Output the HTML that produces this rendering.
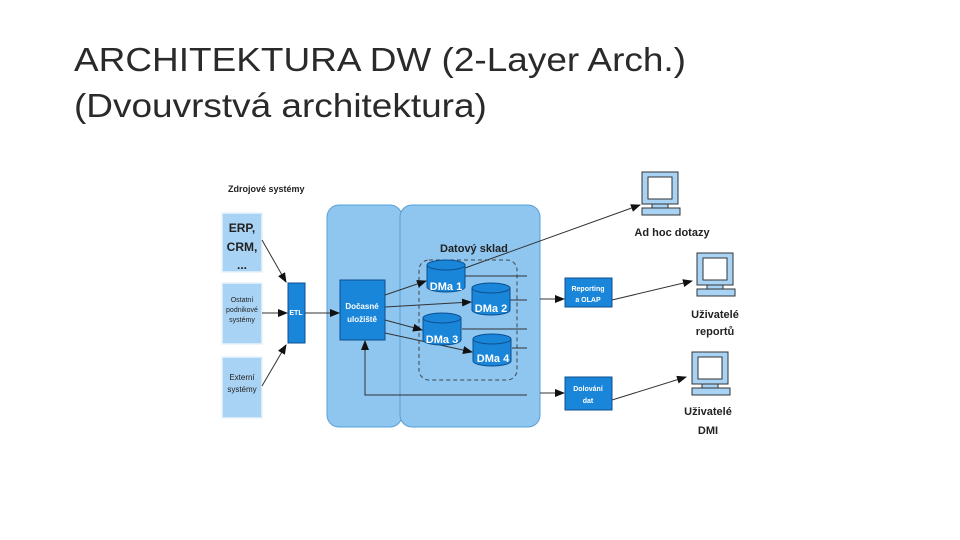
<!DOCTYPE html>
<html><head><meta charset="utf-8"><style>
body{margin:0;width:960px;height:540px;background:#fff;overflow:hidden;position:relative;font-family:"Liberation Sans",sans-serif}
.t{position:absolute;left:74px;font-size:33px;color:#2a2a2a;line-height:44px;transform:scaleX(1.12);transform-origin:left;white-space:nowrap}
</style></head><body>
<div class="t" style="top:38px">ARCHITEKTURA DW (2-Layer Arch.)</div>
<div class="t" style="top:84px">(Dvouvrstvá architektura)</div>
<svg width="960" height="540" style="position:absolute;left:0;top:0" font-family="Liberation Sans, sans-serif" font-weight="bold">
<defs><marker id="a" markerWidth="10" markerHeight="8" refX="9" refY="4" orient="auto" markerUnits="userSpaceOnUse"><path d="M0,0L10,4L0,8z" fill="#111"/></marker></defs>
<text x="228" y="192" font-size="9" fill="#222">Zdrojové systémy</text>
<g fill="#a9d3f4" stroke="#e8f3fc" stroke-width="1.5">
<rect x="222" y="213" width="40" height="59"/><rect x="222" y="283" width="40" height="61"/><rect x="222" y="357" width="40" height="61"/>
</g>
<g font-size="12" fill="#222" text-anchor="middle"><text x="242" y="232">ERP,</text><text x="242" y="251">CRM,</text><text x="242" y="269">...</text></g>
<g font-size="7" fill="#222" text-anchor="middle" font-weight="normal"><text x="242" y="302">Ostatní</text><text x="242" y="312">podnikové</text><text x="242" y="322">systémy</text>
<text x="242" y="380" font-size="8">Externí</text><text x="242" y="392" font-size="8">systémy</text></g>
<rect x="327" y="205" width="75" height="222" rx="12" fill="#8ec6f0" stroke="#5a9fd6"/>
<rect x="400" y="205" width="140" height="222" rx="12" fill="#8ec6f0" stroke="#5a9fd6"/>
<rect x="288" y="283" width="17" height="60" fill="#1a86d9" stroke="#0c4f90"/>
<text x="296" y="315" font-size="7" fill="#fff" text-anchor="middle">ETL</text>
<rect x="340" y="280" width="45" height="60" fill="#1a86d9" stroke="#0c4f90"/>
<text x="362" y="309" font-size="8" fill="#fff" text-anchor="middle">Dočasné</text>
<text x="362" y="322" font-size="8" fill="#fff" text-anchor="middle">uložiště</text>
<rect x="419" y="260" width="98" height="120" rx="10" fill="none" stroke="#444" stroke-dasharray="4,3"/>
<text x="440" y="252" font-size="11" fill="#222">Datový sklad</text>
<g stroke="#333" stroke-width="1" fill="none">
<line x1="465" y1="276" x2="527" y2="276"/><line x1="510" y1="300" x2="527" y2="300"/><line x1="462" y1="329" x2="527" y2="329"/><line x1="512" y1="348" x2="527" y2="348"/>
<line x1="262" y1="240" x2="286" y2="282" marker-end="url(#a)"/>
<line x1="262" y1="313" x2="287" y2="313" marker-end="url(#a)"/>
<line x1="262" y1="386" x2="286" y2="345" marker-end="url(#a)"/>
<line x1="305" y1="313" x2="339" y2="313" marker-end="url(#a)"/>
<line x1="385" y1="295" x2="426" y2="281" marker-end="url(#a)"/>
<line x1="385" y1="307" x2="471" y2="302" marker-end="url(#a)"/>
<line x1="385" y1="320" x2="422" y2="330" marker-end="url(#a)"/>
<line x1="385" y1="333" x2="472" y2="352" marker-end="url(#a)"/>
<polyline points="527,395 365,395 365,341" marker-end="url(#a)"/>
<line x1="465" y1="268" x2="640" y2="205" marker-end="url(#a)"/>
<line x1="540" y1="299" x2="564" y2="299" marker-end="url(#a)"/>
<line x1="540" y1="393" x2="564" y2="393" marker-end="url(#a)"/>
<line x1="612" y1="300" x2="692" y2="281" marker-end="url(#a)"/>
<line x1="612" y1="400" x2="686" y2="377" marker-end="url(#a)"/>
</g>
<g fill="#1a86d9" stroke="#0c4f90">
<path d="M427,265v22a19,5 0 0 0 38,0v-22z"/><ellipse cx="446" cy="265" rx="19" ry="5"/>
<path d="M472,288v22a19,5 0 0 0 38,0v-22z"/><ellipse cx="491" cy="288" rx="19" ry="5"/>
<path d="M423,318v22a19,5 0 0 0 38,0v-22z"/><ellipse cx="442" cy="318" rx="19" ry="5"/>
<path d="M473,339v22a19,5 0 0 0 38,0v-22z"/><ellipse cx="492" cy="339" rx="19" ry="5"/>
</g>
<g font-size="11" fill="#fff" text-anchor="middle"><text x="446" y="290">DMa 1</text><text x="491" y="312">DMa 2</text><text x="442" y="343">DMa 3</text><text x="493" y="362">DMa 4</text></g>
<rect x="565" y="278" width="47" height="29" fill="#1a86d9" stroke="#0c4f90"/>
<text x="588" y="291" font-size="7" fill="#fff" text-anchor="middle">Reporting</text><text x="588" y="302" font-size="7" fill="#fff" text-anchor="middle">a OLAP</text>
<rect x="565" y="377" width="47" height="33" fill="#1a86d9" stroke="#0c4f90"/>
<text x="588" y="391" font-size="7" fill="#fff" text-anchor="middle">Dolování</text><text x="588" y="403" font-size="7" fill="#fff" text-anchor="middle">dat</text>
<g fill="#a9d3f4" stroke="#333">
<rect x="642" y="172" width="36" height="32"/><rect x="648" y="177" width="24" height="22" fill="#fff"/><rect x="652" y="204" width="16" height="4"/><rect x="642" y="208" width="38" height="7"/>
<rect x="697" y="253" width="36" height="32"/><rect x="703" y="258" width="24" height="22" fill="#fff"/><rect x="707" y="285" width="16" height="4"/><rect x="697" y="289" width="38" height="7"/>
<rect x="692" y="352" width="36" height="32"/><rect x="698" y="357" width="24" height="22" fill="#fff"/><rect x="702" y="384" width="16" height="4"/><rect x="692" y="388" width="38" height="7"/>
</g>
<g font-size="11" fill="#222" text-anchor="middle">
<text x="672" y="236">Ad hoc dotazy</text><text x="715" y="318">Uživatelé</text><text x="715" y="335">reportů</text>
<text x="708" y="415">Uživatelé</text><text x="708" y="434">DMI</text></g>
</svg>
</body></html>
